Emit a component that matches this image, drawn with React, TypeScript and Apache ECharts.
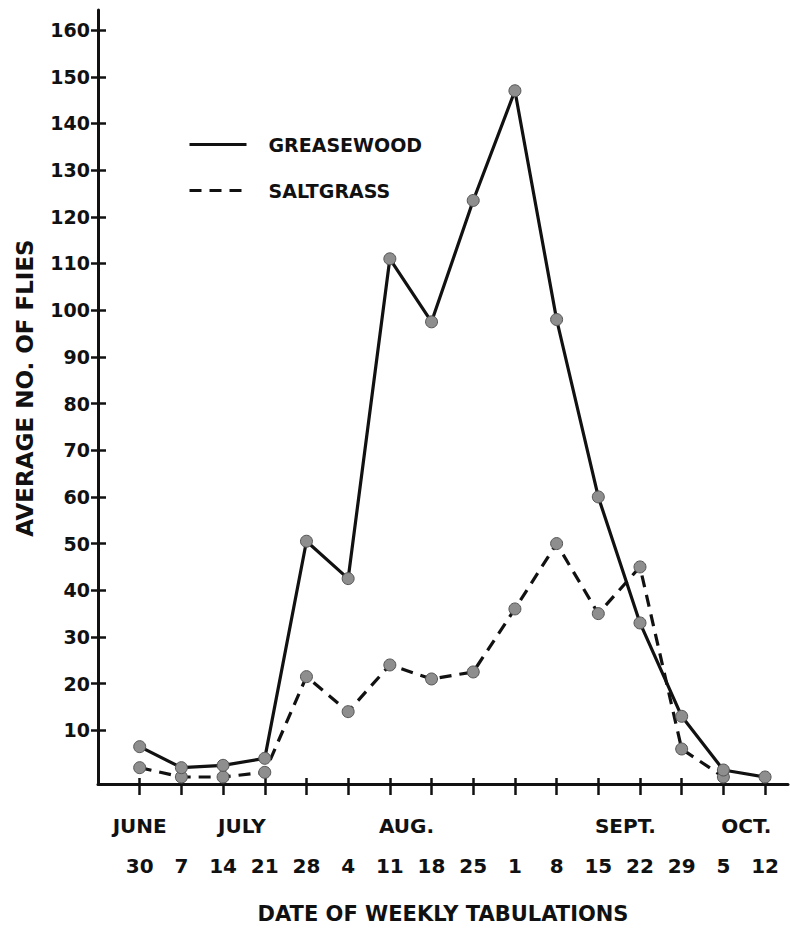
import React, { useEffect, useRef } from "react";
import * as echarts from "echarts";

// ---- data ----
const dayLabels = ["30", "7", "14", "21", "28", "4", "11", "18", "25", "1", "8", "15", "22", "29", "5", "12"];
const monthLabels = ["JUNE", "JULY", "AUG.", "SEPT.", "OCT."];
const monthPositions = [0, 2.45, 6.4, 11.65, 14.55];
const greasewood = [6.5, 2, 2.5, 4, 50.5, 42.5, 111, 97.5, 123.5, 147, 98, 60, 33, 13, 1.5, 0];
const saltgrass: (number | null)[] = [2, 0, 0, 1, 21.5, 14, 24, 21, 22.5, 36, 50, 35, 45, 6, 0, null];
const yTicks = [10, 20, 30, 40, 50, 60, 70, 80, 90, 100, 110, 120, 130, 140, 150, 160];
const seriesNames = ["GREASEWOOD", "SALTGRASS"];
const xTitle = "DATE OF WEEKLY TABULATIONS";
const yTitle = "AVERAGE NO. OF FLIES";

const FONT = "'DejaVu Sans', 'Liberation Sans', sans-serif";
const INK = "#111111";

export default function App() {
  const ref = useRef<HTMLDivElement>(null);
  useEffect(() => {
    if (!ref.current) return;
    const chart = echarts.init(ref.current, null, { renderer: "svg" });
    const idx = dayLabels.map((_, i) => i);
    const xMin = -1;
    const xMax = 15.55;
    const yMin = -1.5;
    const yMax = 164.3;
    const pointStyle = { color: "#8e8e8e", borderColor: "#555", borderWidth: 1 };
    chart.setOption({
      animation: false,
      backgroundColor: "#ffffff",
      grid: { left: 98, right: 2, top: 10, bottom: 149, containLabel: false },
      legend: {
        orient: "vertical",
        left: 183,
        top: 130,
        itemWidth: 57,
        itemHeight: 20,
        itemGap: 27,
        data: seriesNames,
        itemStyle: { opacity: 0 },
        lineStyle: { width: 3 },
        textStyle: { fontSize: 19, fontWeight: "bold", fontFamily: FONT, color: INK, padding: [0, 0, 0, 17] },
      },
      xAxis: [
        {
          type: "value",
          min: xMin,
          max: xMax,
          position: "bottom",
          splitLine: { show: false },
          axisLine: { show: true, onZero: false, lineStyle: { color: INK, width: 3 } },
          axisTick: { show: true, customValues: idx, length: 11, lineStyle: { color: INK, width: 2.5 } },
          axisLabel: {
            customValues: idx,
            formatter: (v: number) => dayLabels[Math.round(v)] ?? "",
            margin: 72,
            fontSize: 20,
            fontWeight: "bold",
            fontFamily: FONT,
            color: INK,
          },
          name: xTitle,
          nameLocation: "middle",
          nameGap: 119,
          nameTextStyle: { fontSize: 21, fontWeight: "bold", fontFamily: FONT, color: INK },
        },
        {
          type: "value",
          min: xMin,
          max: xMax,
          position: "bottom",
          splitLine: { show: false },
          axisLine: { show: false, onZero: false },
          axisTick: { show: true, inside: true, customValues: idx, length: 6, lineStyle: { color: INK, width: 2.5 } },
          axisLabel: {
            customValues: monthPositions,
            formatter: (v: number) => {
              const k = monthPositions.findIndex((p) => Math.abs(p - v) < 1e-6);
              return k >= 0 ? monthLabels[k] : "";
            },
            margin: 32,
            fontSize: 20,
            fontWeight: "bold",
            fontFamily: FONT,
            color: INK,
          },
        },
      ],
      yAxis: [
        {
          type: "value",
          min: yMin,
          max: yMax,
          position: "left",
          splitLine: { show: false },
          axisLine: { show: true, onZero: false, lineStyle: { color: INK, width: 3 } },
          axisTick: { show: true, customValues: yTicks, length: 7, lineStyle: { color: INK, width: 2.5 } },
          axisLabel: {
            customValues: yTicks,
            margin: 8,
            fontSize: 19,
            fontWeight: "bold",
            fontFamily: FONT,
            color: INK,
          },
          name: yTitle,
          nameLocation: "middle",
          nameRotate: 90,
          nameGap: 62,
          nameTextStyle: { fontSize: 23, fontWeight: "bold", fontFamily: FONT, color: INK, padding: [0, 0, 0, 18] },
        },
        {
          type: "value",
          min: yMin,
          max: yMax,
          position: "left",
          splitLine: { show: false },
          axisLine: { show: false, onZero: false },
          axisTick: { show: true, inside: true, customValues: yTicks, length: 8, lineStyle: { color: INK, width: 2.5 } },
          axisLabel: { show: false },
        },
      ],
      series: [
        {
          name: seriesNames[1],
          type: "line",
          xAxisIndex: 0,
          yAxisIndex: 0,
          data: saltgrass.map((v, i) => [i, v]),
          symbol: "circle",
          symbolSize: 12,
          showSymbol: true,
          connectNulls: false,
          lineStyle: { color: INK, width: 3.2, type: [12, 8] },
          itemStyle: pointStyle,
          z: 2,
        },
        {
          name: seriesNames[0],
          type: "line",
          xAxisIndex: 0,
          yAxisIndex: 0,
          data: greasewood.map((v, i) => [i, v]),
          symbol: "circle",
          symbolSize: 12,
          showSymbol: true,
          lineStyle: { color: INK, width: 3.2, type: "solid" },
          itemStyle: pointStyle,
          z: 3,
        },
      ],
    });
    return () => chart.dispose();
  }, []);
  return (
    <div
      ref={ref}
      style={{ position: "fixed", left: 0, top: 0, width: 790, height: 933, background: "#fff" }}
    />
  );
}
